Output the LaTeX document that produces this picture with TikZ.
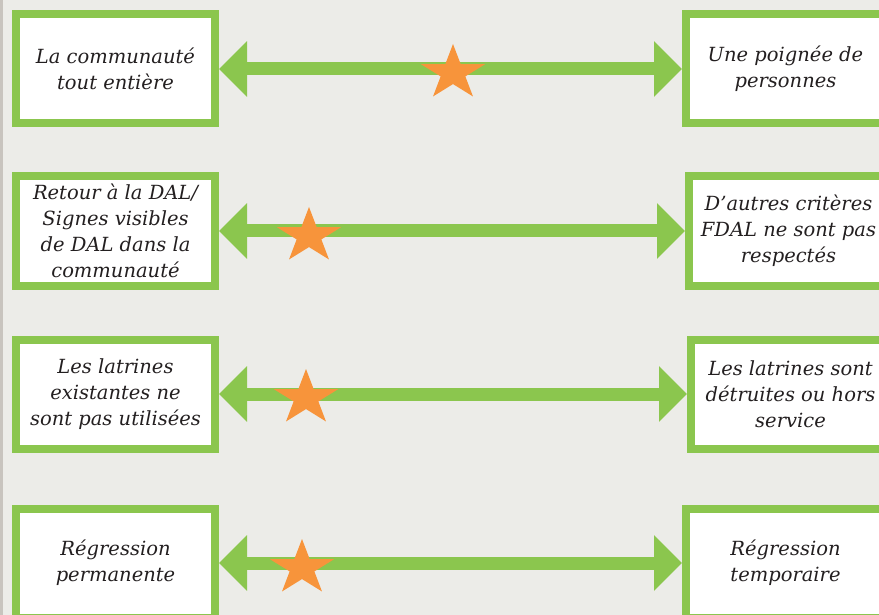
\documentclass[tikz,border=0pt]{standalone}
\usepackage{fontspec}
\setmainfont{DejaVu Serif}
\usepackage{xcolor}
\usepackage{tikz}
\usetikzlibrary{arrows.meta}
\usetikzlibrary{calc}
\definecolor{leafgreen}{RGB}{139,198,78}
\definecolor{starorange}{RGB}{247,148,59}
\definecolor{paper}{RGB}{236,236,232}
\definecolor{ink}{RGB}{35,31,32}
\definecolor{edgegrey}{RGB}{200,196,190}
\tikzstyle{critbox} = [draw=leafgreen, fill=white,
	line width=8pt,
	minimum width=199pt,
	minimum height=109pt,
	inner sep=0pt, align=center, text=ink,
	font=\fontsize{19.5}{26}\selectfont\itshape]
\tikzstyle{scalearrow} = [{Triangle[length=28pt, width=54pt]}-{Triangle[length=28pt, width=54pt]}, line width=13pt, draw=leafgreen]
\newcommand{\drawstar}[1]{\fill[starorange, shift={#1}, xscale=34, yscale=-29]
	(90:1) -- (126:.382) -- (162:1) -- (198:.382) -- (234:1) -- (270:.382)
	-- (306:1) -- (342:.382) -- (18:1) -- (54:.382) -- cycle}

\begin{document}
\begin{tikzpicture}[x=1pt, y=-1pt]
	\fill[paper] (0,0) rectangle (879,615);
	\useasboundingbox (0,0) rectangle (879,615);
	\draw[edgegrey, line width=2.5pt] (1.5,0) -- (1.5,615);
	
	% row 1
	\node (lone) [critbox] at (115.5,69) {La communauté\\tout entière};
	\node (rone) [critbox] at (785.5,69) {Une poignée de\\personnes};
	\draw [scalearrow] (lone) -- (rone);
	\drawstar{(453,73)};
	
	% row 2
	\node (ltwo) [critbox] at (115.5,231) {Retour à la DAL/\\Signes visibles\\de DAL dans la\\communauté};
	\node (rtwo) [critbox] at (788.5,231) {D'autres critères\\FDAL ne sont pas\\respectés};
	\draw [scalearrow] (ltwo) -- (rtwo);
	\drawstar{(309,236)};
	
	% row 3
	\node (lthree) [critbox] at (115.5,394) {Les latrines\\existantes ne\\sont pas utilisées};
	\node (rthree) [critbox] at (790.5,394) {Les latrines sont\\détruites ou hors\\service};
	\draw [scalearrow] (lthree) -- (rthree);
	\drawstar{(306,398)};
	
	% row 4
	\node (lfour) [critbox] at (115.5,563) {Régression\\permanente};
	\node (rfour) [critbox] at (785.5,563) {Régression\\temporaire};
	\draw [scalearrow] (lfour) -- (rfour);
	\drawstar{(302,568)};
\end{tikzpicture}
\end{document}
